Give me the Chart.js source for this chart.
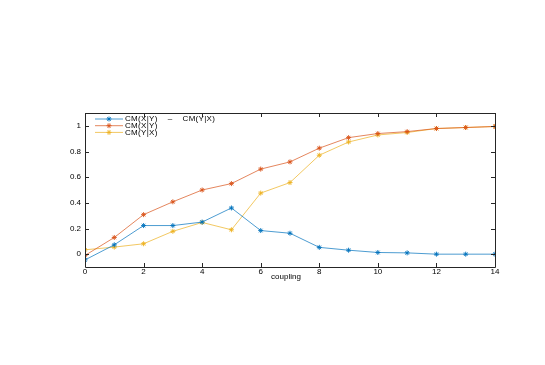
<!DOCTYPE html>
<html>
<head>
<meta charset="utf-8">
<script src="https://cdn.jsdelivr.net/npm/chart.js@4/dist/chart.umd.min.js"></script>
<style>
html,body{margin:0;padding:0;background:#fff;}
#wrap{width:545px;height:365px;}
</style>
</head>
<body>
<div id="wrap"><canvas id="c" width="545" height="365"></canvas></div>
<script>
const coupling = [0,1,2,3,4,5,6,7,8,9,10,11,12,13,14];
const diffXY = [-0.045,0.073,0.223,0.223,0.25,0.36,0.184,0.163,0.053,0.031,0.013,0.01,0.0,0.0,0.0];
const cmXgivenY = [-0.01,0.13,0.308,0.408,0.5,0.55,0.663,0.719,0.826,0.908,0.94,0.955,0.979,0.987,0.995];
const cmYgivenX = [0.034,0.055,0.081,0.178,0.247,0.19,0.476,0.558,0.771,0.874,0.929,0.948,0.979,0.987,0.995];
const seriesLabels = ['CM(X|Y)    \u2013    CM(Y|X)','CM(X|Y)','CM(Y|X)'];
const xTicks = [0,2,4,6,8,10,12,14];
const yTicks = [0,0.2,0.4,0.6,0.8,1];
const xTitle = 'coupling';

const colors = ['0,114,189','217,83,25','237,177,32'];
const FONT = '8px "Liberation Sans", Arial, sans-serif';

function mk(label, data, rgb){
  return {
    label: label,
    data: coupling.map((x,i)=>({x:x,y:data[i]})),
    borderColor: 'rgba(' + rgb + ',0.7)',
    backgroundColor: 'rgb(' + rgb + ')',
    pointBorderColor: 'rgba(' + rgb + ',0.9)',
    pointBackgroundColor: 'rgb(' + rgb + ')',
    borderWidth: 1,
    pointStyle: 'star',
    pointRadius: 2.5,
    pointBorderWidth: 1,
    pointHoverRadius: 2.5,
    tension: 0,
    fill: false
  };
}

const boxPlugin = {
  id: 'boxPlugin',
  afterDraw(chart){
    const ctx = chart.ctx;
    const a = chart.chartArea;
    const xs = chart.scales.x, ys = chart.scales.y;
    ctx.save();
    ctx.strokeStyle = '#262626';
    ctx.lineWidth = 1;
    ctx.beginPath();
    ctx.rect(Math.round(a.left)+0.5, Math.round(a.top)+0.5, Math.round(a.right-a.left), Math.round(a.bottom-a.top));
    ctx.stroke();
    const tl = 4;
    ctx.beginPath();
    xTicks.forEach(v=>{
      const px = Math.round(xs.getPixelForValue(v))+0.5;
      ctx.moveTo(px, a.bottom); ctx.lineTo(px, a.bottom - tl);
      ctx.moveTo(px, a.top); ctx.lineTo(px, a.top + tl);
    });
    yTicks.forEach(v=>{
      const py = Math.round(ys.getPixelForValue(v))+0.5;
      ctx.moveTo(a.left, py); ctx.lineTo(a.left + tl, py);
      ctx.moveTo(a.right, py); ctx.lineTo(a.right - tl, py);
    });
    ctx.stroke();
    // x title
    ctx.fillStyle = '#000';
    ctx.font = FONT;
    ctx.textAlign = 'center';
    ctx.textBaseline = 'middle';
    ctx.fillText(xTitle, (a.left+a.right)/2 - 4, a.bottom + 10);
    // legend
    const lx0 = a.left + 10, lx1 = a.left + 38, tx = a.left + 40;
    ctx.textAlign = 'left';
    try { ctx.letterSpacing = '0.3px'; } catch(e) {}
    chart.data.datasets.forEach((ds,i)=>{
      const y = a.top + 6 + i*6.7;
      ctx.strokeStyle = ds.borderColor;
      ctx.lineWidth = 1;
      ctx.beginPath(); ctx.moveTo(lx0,y); ctx.lineTo(lx1,y); ctx.stroke();
      ctx.strokeStyle = ds.pointBorderColor;
      ctx.fillStyle = ds.pointBackgroundColor;
      Chart.helpers.drawPoint(ctx, {pointStyle:'star', radius:2.5, rotation:0, borderWidth:1}, (lx0+lx1)/2, y);
      ctx.fillStyle = '#000';
      ctx.fillText(ds.label, tx, y);
    });
    ctx.restore();
  }
};

new Chart(document.getElementById('c'), {
  type: 'line',
  data: {
    datasets: [mk(seriesLabels[0], diffXY, colors[0]), mk(seriesLabels[1], cmXgivenY, colors[1]), mk(seriesLabels[2], cmYgivenX, colors[2])]
  },
  options: {
    responsive: false,
    animation: false,
    devicePixelRatio: 1,
    layout: { padding: { top: 113, right: 50, left: 0, bottom: 0 } },
    plugins: { legend: { display: false }, tooltip: { enabled: false } },
    scales: {
      x: {
        type: 'linear', min: 0, max: 14,
        afterBuildTicks(s){ s.ticks = xTicks.map(v=>({value:v})); },
        afterFit(s){ s.height = 98; },
        grid: { display: false, drawTicks: false },
        border: { display: false },
        ticks: { font: { family: '"Liberation Sans", Arial, sans-serif', size: 8 }, color: '#000', padding: 0, maxRotation: 0, autoSkip: false, callback: v => String(v) }
      },
      y: {
        type: 'linear', min: -0.1, max: 1.1,
        afterBuildTicks(s){ s.ticks = yTicks.map(v=>({value:v})); },
        afterFit(s){ s.width = 85; },
        grid: { display: false, drawTicks: false },
        border: { display: false },
        ticks: { font: { family: '"Liberation Sans", Arial, sans-serif', size: 8 }, color: '#000', padding: 4, autoSkip: false, callback: v => String(Math.round(v*10)/10) }
      }
    }
  },
  plugins: [boxPlugin]
});
</script>
</body>
</html>
